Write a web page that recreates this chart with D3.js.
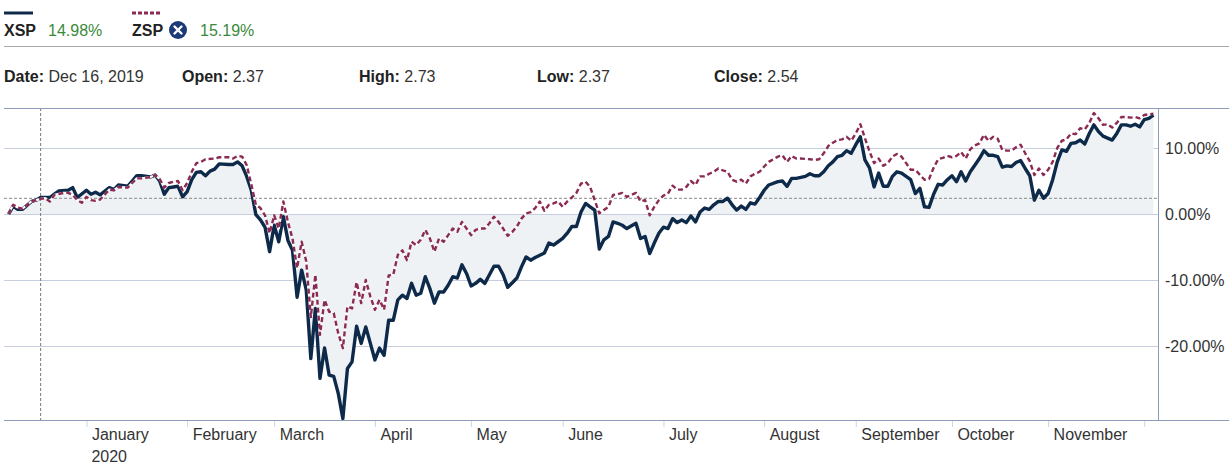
<!DOCTYPE html>
<html lang="en">
<head>
<meta charset="UTF-8">
<title>XSP vs ZSP</title>
<script src="https://cdn.jsdelivr.net/npm/d3@7"></script>
<style>
  body { margin: 0; background: #fff; }
  svg { display: block; font-family: "Liberation Sans", Arial, sans-serif; }
</style>
</head>
<body>
<script>
// percent change from first trading day, [trading day index, pct]
var xspPoints = [
  [0,0.0],[1,1.2],[2,0.7],[3,0.7],[5,1.9],[6,2.1],[7,2.5],[9,2.5],[10,3.0],[11,3.5],
  [13,3.6],[14,4.0],[15,2.5],[17,3.6],[18,3.0],[19,3.3],[20,2.9],[22,4.0],[23,3.7],[24,4.4],
  [26,4.2],[27,5.0],[28,5.8],[29,5.8],[31,5.6],[32,5.9],[33,5.0],[34,3.0],[35,4.0],[36,4.1],
  [37,4.2],[38,2.6],[39,3.4],[40,5.2],[41,6.3],[42,6.4],[43,5.8],[44,6.5],[45,6.8],[46,7.6],
  [48,7.5],[49,7.5],[50,7.9],[51,7.3],[52,5.7],[53,3.6],[54,-0.1],[55,-0.9],[56,-2.0],[57,-5.7],
  [58,-1.7],[59,-4.2],[60,-0.4],[61,-4.0],[62,-5.5],[63,-12.6],[64,-8.5],[65,-11.5],[66,-21.9],[67,-14.3],
  [68,-24.9],[69,-20.3],[70,-24.4],[71,-24.6],[72,-27.2],[73,-31.0],[74,-23.4],[75,-22.4],[76,-17.0],[77,-19.6],
  [78,-17.1],[79,-19.6],[80,-22.1],[81,-20.3],[82,-21.4],[83,-16.1],[84,-16.1],[85,-13.0],[86,-12.3],[87,-12.8],
  [88,-10.5],[89,-12.3],[90,-12.0],[91,-9.5],[92,-11.3],[93,-13.5],[94,-11.8],[95,-11.8],[96,-10.8],[97,-9.5],
  [98,-9.7],[99,-7.7],[100,-9.0],[101,-10.9],[102,-10.5],[103,-9.9],[104,-10.5],[105,-9.2],[106,-7.9],[107,-7.9],
  [108,-9.2],[109,-11.1],[110,-10.4],[111,-9.7],[112,-8.0],[113,-6.5],[114,-7.0],[115,-6.6],[117,-5.9],[118,-4.4],
  [119,-4.7],[120,-4.2],[121,-3.7],[122,-2.9],[123,-1.9],[124,-1.9],[125,0.3],[126,1.6],[127,1.1],[128,0.6],
  [129,-5.3],[130,-3.9],[131,-3.4],[132,-1.2],[133,-1.4],[134,-1.7],[135,-2.2],[137,-1.4],[138,-3.7],[139,-3.4],
  [140,-6.0],[141,-4.4],[142,-2.9],[143,-2.0],[144,-2.2],[145,-0.7],[146,-1.3],[147,-0.9],[148,-1.3],[149,-0.3],
  [150,-1.2],[151,0.3],[152,0.9],[153,0.7],[154,1.4],[155,1.9],[156,1.9],[157,2.4],[158,1.4],[159,0.6],
  [160,1.2],[161,0.7],[162,1.7],[163,1.5],[164,2.5],[165,3.6],[166,4.4],[168,4.9],[169,5.0],[170,4.2],
  [171,5.4],[172,5.4],[174,5.7],[175,6.1],[176,5.8],[177,5.8],[178,6.4],[179,7.3],[180,7.9],[181,8.7],
  [182,8.9],[183,9.6],[184,9.2],[185,10.5],[186,11.7],[187,8.2],[188,7.0],[189,4.1],[190,6.2],[191,4.2],
  [192,4.2],[193,5.7],[194,6.4],[195,6.2],[197,5.2],[198,3.1],[199,3.9],[200,1.1],[201,1.0],[202,3.0],
  [203,4.5],[204,4.4],[205,5.2],[206,5.8],[207,4.9],[208,6.4],[209,5.0],[210,6.4],[211,7.4],[212,8.4],
  [213,9.6],[214,8.9],[215,8.9],[216,8.7],[217,7.1],[218,7.3],[219,7.2],[220,7.8],[221,8.1],[222,6.9],
  [223,5.8],[224,2.1],[225,3.6],[226,2.4],[227,3.1],[228,5.2],[229,7.9],[230,9.7],[231,9.5],[232,10.7],
  [233,10.8],[234,11.2],[235,10.6],[236,12.2],[237,13.5],[238,12.5],[239,11.8],[241,11.2],[242,12.2],[243,13.5],
  [244,13.5],[245,13.3],[246,13.6],[247,13.2],[248,14.3],[249,14.5],[250,14.98]
];

var zspPoints = [
  [0,0.0],[1,1.4],[2,1.0],[3,0.8],[5,1.9],[6,2.1],[7,2.3],[8,2.4],[9,1.9],[10,2.9],
  [12,3.2],[13,3.2],[14,2.9],[15,2.1],[16,1.7],[17,2.6],[18,2.1],[19,2.0],[20,2.2],[22,3.7],
  [23,3.6],[24,4.1],[26,4.0],[27,4.7],[28,5.4],[29,5.4],[31,5.6],[32,5.9],[33,5.3],[34,4.0],
  [35,4.7],[36,4.9],[37,5.0],[38,3.6],[39,4.7],[40,6.4],[41,7.7],[42,7.9],[43,8.3],[45,8.4],
  [46,8.6],[48,8.6],[49,8.4],[50,8.8],[51,8.7],[52,7.4],[53,4.5],[54,1.4],[55,0.9],[56,-0.2],
  [57,-2.9],[58,-0.2],[59,-2.2],[60,1.9],[61,-1.2],[62,-3.7],[63,-8.2],[64,-4.2],[65,-7.2],[66,-15.6],
  [67,-9.2],[68,-18.3],[69,-13.0],[70,-14.8],[71,-15.0],[72,-18.1],[73,-20.3],[74,-14.0],[75,-14.3],[76,-10.3],
  [77,-13.5],[78,-10.0],[79,-12.5],[80,-14.5],[81,-13.0],[82,-14.5],[83,-9.3],[84,-9.2],[85,-6.2],[86,-5.5],
  [87,-7.0],[88,-4.2],[89,-4.7],[90,-3.9],[91,-2.4],[92,-3.7],[93,-5.7],[94,-3.7],[95,-4.2],[96,-3.2],
  [97,-2.2],[98,-2.7],[99,-1.2],[100,-2.2],[101,-3.2],[102,-2.4],[103,-2.2],[104,-2.2],[105,-1.4],[106,-0.4],
  [107,-1.2],[108,-2.2],[109,-3.3],[110,-2.7],[111,-1.9],[112,-0.7],[113,0.1],[114,0.3],[115,0.9],[116,1.9],
  [117,0.5],[118,1.4],[119,1.6],[120,1.9],[121,1.1],[122,1.9],[123,2.5],[124,3.2],[125,4.6],[126,4.9],
  [127,4.1],[128,2.1],[129,0.1],[130,0.6],[131,1.1],[132,2.9],[133,3.0],[134,3.2],[135,2.6],[137,3.2],
  [138,1.9],[139,2.1],[140,-0.2],[141,1.1],[142,2.1],[143,2.8],[144,3.1],[145,4.3],[146,3.7],[147,3.7],
  [148,4.1],[149,5.0],[150,4.4],[151,5.7],[152,5.7],[153,6.1],[154,6.4],[155,6.9],[156,6.6],[157,6.4],
  [158,5.2],[159,4.9],[160,5.2],[161,4.6],[162,5.7],[163,6.1],[164,6.4],[165,7.2],[166,7.9],[168,8.7],
  [169,8.9],[170,7.9],[171,8.8],[172,8.4],[173,8.4],[175,8.3],[176,8.2],[177,8.3],[178,9.2],[179,10.3],
  [180,10.8],[181,11.2],[182,11.3],[183,11.7],[184,11.1],[185,12.2],[186,13.6],[187,11.5],[188,9.5],[189,7.7],
  [190,8.4],[191,7.3],[192,7.7],[193,8.7],[194,9.1],[195,8.7],[196,7.7],[197,6.7],[198,6.7],[200,5.2],
  [201,5.3],[202,7.0],[203,8.3],[204,8.5],[205,8.8],[206,8.6],[207,8.8],[208,9.4],[209,8.4],[210,9.8],
  [211,10.4],[212,10.7],[213,12.0],[214,11.1],[215,11.7],[216,11.4],[217,9.7],[218,9.6],[219,9.6],[220,10.1],
  [221,10.5],[222,9.2],[223,8.0],[224,5.9],[225,6.9],[226,5.9],[227,6.7],[228,7.9],[229,10.0],[230,11.1],
  [231,11.3],[232,12.2],[233,12.1],[234,13.0],[235,12.8],[236,13.8],[237,15.3],[238,14.5],[239,13.5],[240,13.6],
  [241,13.1],[242,13.8],[243,14.7],[244,14.7],[245,14.6],[246,14.7],[247,14.5],[248,15.0],[249,15.1],[250,15.19]
];

// first trading day of each month (index), Jan 2020 .. Dec 2020
var monthDays = [17, 39, 58, 80, 101, 121, 143, 165, 185, 206, 227, 248];
var monthLabels = ["January", "February", "March", "April", "May", "June",
                   "July", "August", "September", "October", "November", ""];
var yTicks = [10, 0, -10, -20];

var seriesNames = ["XSP", "ZSP"];
var seriesChange = ["14.98%", "15.19%"];
var infoLabels = ["Date:", "Open:", "High:", "Low:", "Close:"];
var infoValues = ["Dec 16, 2019", "2.37", "2.73", "2.37", "2.54"];

var crossDay = 7;       // Dec 16, 2019
var crossPct = 2.38;

var w = 1229, h = 466;
var plotL = 4, plotR = 1158, plotT = 108, plotB = 420;
var navy = "#0e2a4a", maroon = "#8b2a52", green = "#3b8a3b";
var axisCol = "#8d9cb8", gridCol = "#c6cee0";

var svg = d3.select("body").append("svg")
    .attr("width", w)
    .attr("height", h);

// header legend
var lg = svg.append("g");
lg.append("line").attr("x1", 4).attr("x2", 33).attr("y1", 13).attr("y2", 13)
    .attr("stroke", navy).attr("stroke-width", 3);
lg.append("line").attr("x1", 132).attr("x2", 160).attr("y1", 13).attr("y2", 13)
    .attr("stroke", maroon).attr("stroke-width", 3).attr("stroke-dasharray", "4,2");
lg.append("text").attr("x", 4).attr("y", 36).text(seriesNames[0])
    .attr("font-size", "16px").attr("font-weight", "bold").attr("fill", "#222");
lg.append("text").attr("x", 48).attr("y", 36).text(seriesChange[0])
    .attr("font-size", "16px").attr("fill", green);
lg.append("text").attr("x", 132).attr("y", 36).text(seriesNames[1])
    .attr("font-size", "16px").attr("font-weight", "bold").attr("fill", "#222");
lg.append("circle").attr("cx", 178).attr("cy", 30).attr("r", 9).attr("fill", "#1d3a78");
lg.append("path").attr("d", "M174.5,26.5L181.5,33.5M181.5,26.5L174.5,33.5")
    .attr("stroke", "#fff").attr("stroke-width", 2.4).attr("stroke-linecap", "round");
lg.append("text").attr("x", 200).attr("y", 36).text(seriesChange[1])
    .attr("font-size", "16px").attr("fill", green);

svg.append("line").attr("x1", 4).attr("x2", w).attr("y1", 46.5).attr("y2", 46.5)
    .attr("stroke", "#a9a9a9").attr("stroke-width", 1);

// info row
var infoX = [4, 182, 359, 537, 714];
infoLabels.forEach(function(lab, i) {
    var t = svg.append("text").attr("x", infoX[i]).attr("y", 82)
        .attr("font-size", "16px").attr("fill", "#222");
    t.append("tspan").attr("font-weight", "bold").text(lab);
    t.append("tspan").attr("fill", "#333").text(" " + infoValues[i]);
});

// scales
var x = d3.scaleLinear().domain([-1, 251]).range([plotL, plotR]);
var y = d3.scaleLinear().domain([-31.2, 16.06]).range([plotB, plotT]);

// grid
svg.append("g").selectAll("line")
    .data(yTicks)
    .enter()
    .append("line")
    .attr("x1", plotL).attr("x2", plotR)
    .attr("y1", function(d) { return Math.round(y(d)) + 0.5; })
    .attr("y2", function(d) { return Math.round(y(d)) + 0.5; })
    .attr("stroke", gridCol).attr("stroke-width", 1);

// area under XSP to zero
var area = d3.area()
    .x(function(d) { return x(d[0]); })
    .y0(y(0))
    .y1(function(d) { return y(d[1]); });
svg.append("path").datum(xspPoints).attr("d", area)
    .attr("fill", "#eff2f5");

// redraw zero line over fill
svg.append("line").attr("x1", plotL).attr("x2", plotR)
    .attr("y1", Math.round(y(0)) + 0.5).attr("y2", Math.round(y(0)) + 0.5)
    .attr("stroke", gridCol);

// crosshair
svg.append("line").attr("x1", x(crossDay)).attr("x2", x(crossDay))
    .attr("y1", plotT).attr("y2", plotB)
    .attr("stroke", "#777").attr("stroke-dasharray", "3,2");
svg.append("line").attr("x1", plotL).attr("x2", plotR)
    .attr("y1", y(crossPct)).attr("y2", y(crossPct))
    .attr("stroke", "#888").attr("stroke-dasharray", "3,2");

var line = d3.line()
    .x(function(d) { return x(d[0]); })
    .y(function(d) { return y(d[1]); });

svg.append("path").datum(xspPoints).attr("d", line)
    .attr("fill", "none").attr("stroke", navy).attr("stroke-width", 3.4)
    .attr("stroke-linejoin", "round");
svg.append("path").datum(zspPoints).attr("d", line)
    .attr("fill", "none").attr("stroke", "#fff").attr("stroke-width", 2.2)
    .attr("stroke-linejoin", "round");
svg.append("path").datum(zspPoints).attr("d", line)
    .attr("fill", "none").attr("stroke", maroon).attr("stroke-width", 2.4)
    .attr("stroke-dasharray", "5,3").attr("stroke-linejoin", "round");

// frame lines
svg.append("line").attr("x1", plotL).attr("x2", w).attr("y1", plotT + 0.5).attr("y2", plotT + 0.5)
    .attr("stroke", axisCol);
svg.append("line").attr("x1", plotL).attr("x2", w).attr("y1", plotB + 0.5).attr("y2", plotB + 0.5)
    .attr("stroke", axisCol);
svg.append("line").attr("x1", plotR + 0.5).attr("x2", plotR + 0.5).attr("y1", plotT).attr("y2", plotB)
    .attr("stroke", axisCol);

// y axis (right)
var yAxis = svg.append("g")
    .attr("transform", "translate(" + plotR + ",0)")
    .call(d3.axisRight(y).tickValues(yTicks).tickSize(0).tickPadding(7)
        .tickFormat(function(d) { return d.toFixed(2) + "%"; }));
yAxis.select(".domain").remove();
yAxis.selectAll("text").attr("font-size", "16px").attr("fill", "#333")
    .attr("font-family", "'Liberation Sans', Arial, sans-serif");

// x axis (months)
var xAxis = svg.append("g")
    .attr("transform", "translate(0," + (plotB + 1) + ")")
    .call(d3.axisBottom(x).tickValues(monthDays).tickSize(6)
        .tickFormat(function(d, i) { return monthLabels[i]; }));
xAxis.select(".domain").remove();
xAxis.selectAll(".tick line").attr("stroke", "#ccd4e6");
xAxis.selectAll("text")
    .attr("text-anchor", "start").attr("x", 5).attr("y", 19).attr("dy", 0)
    .attr("font-size", "16px").attr("fill", "#333")
    .attr("font-family", "'Liberation Sans', Arial, sans-serif");

svg.append("text").attr("x", x(monthDays[0]) + 5).attr("y", 462)
    .text("2020").attr("font-size", "16px").attr("fill", "#333");
</script>
</body>
</html>
